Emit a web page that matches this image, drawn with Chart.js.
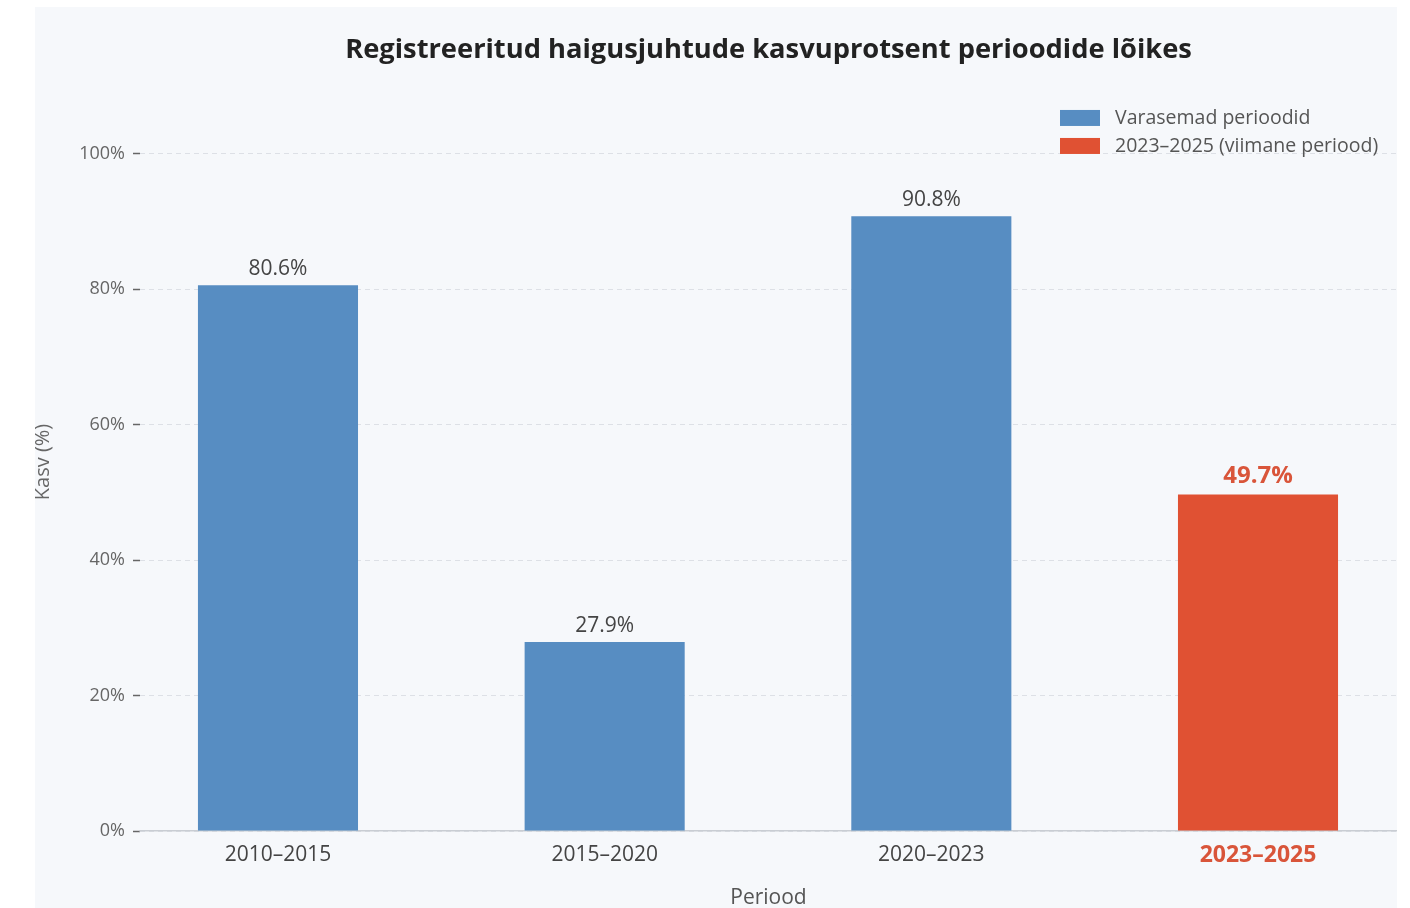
<!DOCTYPE html>
<html>
<head>
<meta charset="utf-8">
<script src="https://cdn.jsdelivr.net/npm/chart.js@4.4.1/dist/chart.umd.min.js"></script>
<style>
  html, body { margin: 0; padding: 0; background: #ffffff; }
  #panel {
    position: absolute;
    left: 35px;
    top: 7px;
    width: 1362px;
    height: 901px;
    background: #f6f8fb;
  }
</style>
</head>
<body>
<div id="panel"><canvas id="growthChart" width="1362" height="901"></canvas></div>
<script>
// Data
const categories = ["2010–2015", "2015–2020", "2020–2023", "2023–2025"];
const earlierValues = [80.6, 27.9, 90.8];
const latestValues = [49.7];
const yTicks = [0, 20, 40, 60, 80, 100];
const seriesNames = ["Varasemad perioodid", "2023–2025 (viimane periood)"];

const blue = "#578dc2";
const red = "#e05133";
const redText = "#d9553a";
const font = "'Open Sans', 'Noto Sans', sans-serif";

const earlierPoints = earlierValues.map((v, i) => ({ x: i, y: v }));
const latestPoints = latestValues.map((v, i) => ({ x: earlierValues.length + i, y: v }));

// Value labels above bars
const barLabels = {
    id: "barLabels",
    afterDatasetsDraw(chart) {
        const ctx = chart.ctx;
        ctx.save();
        ctx.textAlign = "center";
        ctx.textBaseline = "middle";
        chart.data.datasets.forEach((ds, di) => {
            const meta = chart.getDatasetMeta(di);
            meta.data.forEach((bar, i) => {
                const isLatest = di === 1;
                ctx.fillStyle = isLatest ? redText : "#444";
                ctx.font = (isLatest ? "bold 24px " : "21px ") + font;
                ctx.fillText(ds.data[i].y.toFixed(1) + "%", bar.x, bar.y - (isLatest ? 18 : 16));
            });
        });
        ctx.restore();
    }
};

// Legend in the upper right corner of the plot
const cornerLegend = {
    id: "cornerLegend",
    afterDraw(chart) {
        const ctx = chart.ctx;
        const area = chart.chartArea;
        const x = 1025;
        ctx.save();
        ctx.font = "19.5px " + font;
        ctx.textBaseline = "middle";
        chart.data.datasets.forEach((ds, i) => {
            const y = area.top + 25 + i * 28;
            ctx.fillStyle = ds.backgroundColor;
            ctx.fillRect(x, y - 8, 40, 16);
            ctx.fillStyle = "#555";
            ctx.fillText(ds.label, x + 55, y);
        });
        ctx.restore();
    }
};

const ctx = document.getElementById("growthChart").getContext("2d");
new Chart(ctx, {
    type: "bar",
    data: {
        datasets: [
            {
                label: seriesNames[0],
                data: earlierPoints,
                backgroundColor: blue
            },
            {
                label: seriesNames[1],
                data: latestPoints,
                backgroundColor: red
            }
        ]
    },
    options: {
        responsive: false,
        animation: false,
        grouped: false,
        barPercentage: 0.49,
        categoryPercentage: 1,
        layout: { padding: { left: 0, right: 0, top: 0, bottom: 0 } },
        plugins: {
            legend: { display: false },
            tooltip: { enabled: false },
            title: {
                display: true,
                fullSize: false,
                text: "Registreeritud haigusjuhtude kasvuprotsent perioodide lõikes",
                color: "#222",
                font: { family: font, size: 27.3, weight: "bold" },
                padding: { top: 27, bottom: 26.2 }
            }
        },
        scales: {
            x: {
                type: "linear",
                offset: false,
                min: -0.4224,
                max: 3.4255,
                afterBuildTicks(scale) {
                    scale.ticks = categories.map((c, i) => ({ value: i }));
                },
                afterFit(scale) {
                    scale.height = 77;
                },
                grid: { display: false },
                border: { display: true, color: "#c9cdd3", width: 1.5 },
                ticks: {
                    padding: 3,
                    maxRotation: 0,
                    callback: (v) => categories[v],
                    color: (c) => c.tick && c.tick.value === 3 ? redText : "#444",
                    font: (c) => c.tick && c.tick.value === 3
                        ? { family: font, size: 23, weight: "bold" }
                        : { family: font, size: 21 }
                },
                title: {
                    display: true,
                    text: "Periood",
                    color: "#555",
                    font: { family: font, size: 21 },
                    padding: { top: 0, bottom: -3 }
                }
            },
            y: {
                min: 0,
                max: 109,
                afterBuildTicks(scale) {
                    scale.ticks = yTicks.map((v) => ({ value: v }));
                },
                afterFit(scale) {
                    scale.width = 105;
                },
                grid: {
                    color: "#dde0e6",
                    lineWidth: 1,
                    drawTicks: true,
                    tickLength: 7,
                    tickColor: "#666",
                    tickWidth: 1.5,
                    tickBorderDash: []
                },
                border: { display: false, dash: [5, 4] },
                ticks: {
                    padding: 8,
                    color: "#666",
                    font: { family: font, size: 18 },
                    callback: (v) => v + "%"
                },
                title: {
                    display: true,
                    text: "Kasv (%)",
                    color: "#666",
                    font: { family: font, size: 20 },
                    padding: { top: -4, bottom: 0 }
                }
            }
        }
    },
    plugins: [barLabels, cornerLegend]
});
</script>
</body>
</html>
